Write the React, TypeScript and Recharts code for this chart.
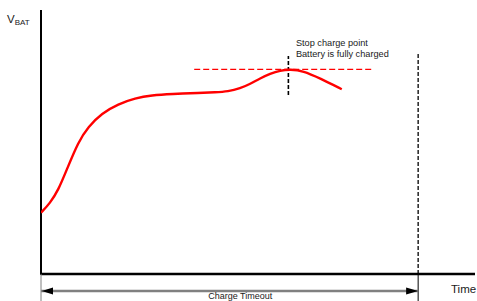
import React from 'react';
import { ComposedChart, Line, XAxis, YAxis, ReferenceLine, ReferenceDot } from 'recharts';

// Charge curve: time (0..100 of axis span) vs battery voltage (0..100 of axis span)
const curveTime = [0, 2.07, 4.0, 5.9, 8.6, 10.9, 14.0, 17.8, 21.7, 25.5, 30.1, 36.6, 40.1, 43.1, 45.9, 48.2, 50.5, 52.8, 55.1, 57.4, 60.4, 64.3, 69.3];
const curveVolt = [23.2, 26.8, 31.8, 39.4, 50.1, 55.8, 60.9, 64.4, 66.6, 67.7, 68.2, 68.6, 68.8, 69.1, 70.3, 72.0, 74.1, 75.9, 77.1, 77.5, 77.0, 74.1, 70.0];

const stopTime = 57.0;
const stopVolt = 77.5;
const stopLevelRange = [35.3, 76.2];
const stopMarkerRange = [67.8, 82.6];
const timeoutTime = 86.9;
const timeoutTop = 83.3;
const belowAxis = -10.3;
const arrowLevel = -6.44;

const labels = {
  yName: 'V',
  ySub: 'BAT',
  xName: 'Time',
  timeout: 'Charge Timeout',
  stop1: 'Stop charge point',
  stop2: 'Battery is fully charged',
};

const data = curveTime.map((t, i) => ({ t, v: curveVolt[i] }));

const FONT = '"Liberation Sans", Arial, sans-serif';
const TEXT = '#1a1a1a';

export default function App() {
  return (
    <div style={{ position: 'absolute', left: 0, top: 0 }}>
      <ComposedChart
        width={477}
        height={301}
        data={data}
        margin={{ top: 10, right: 2, bottom: 27, left: 41 }}
      >
        <XAxis dataKey="t" type="number" domain={[0, 100]} allowDataOverflow hide />
        <YAxis type="number" domain={[0, 100]} allowDataOverflow hide />
        {/* axes */}
        <ReferenceLine
          segment={[{ x: 0, y: -0.4 }, { x: 0, y: 100 }]}
          stroke="#000"
          strokeWidth={2}
          ifOverflow="visible"
        />
        <ReferenceLine
          segment={[{ x: 0, y: 0 }, { x: 100, y: 0 }]}
          stroke="#000"
          strokeWidth={2.3}
          ifOverflow="visible"
        />
        {/* stop level dashed red */}
        <ReferenceLine
          segment={[{ x: stopLevelRange[0], y: stopVolt }, { x: stopLevelRange[1], y: stopVolt }]}
          stroke="#ff0000"
          strokeWidth={1.4}
          strokeDasharray="6 3"
          ifOverflow="visible"
        />
        {/* stop marker dashed black */}
        <ReferenceLine
          segment={[{ x: stopTime, y: stopMarkerRange[0] }, { x: stopTime, y: stopMarkerRange[1] }]}
          stroke="#000"
          strokeWidth={1.6}
          strokeDasharray="4 2"
          ifOverflow="visible"
        />
        {/* timeout dashed vertical */}
        <ReferenceLine
          segment={[{ x: timeoutTime, y: 0 }, { x: timeoutTime, y: timeoutTop }]}
          stroke="#000"
          strokeWidth={1.3}
          strokeDasharray="4 2"
          ifOverflow="visible"
        />
        <ReferenceLine
          segment={[{ x: timeoutTime, y: belowAxis }, { x: timeoutTime, y: 0 }]}
          stroke="#000"
          strokeWidth={1}
          ifOverflow="visible"
        />
        <ReferenceLine
          segment={[{ x: 0, y: belowAxis }, { x: 0, y: 0 }]}
          stroke="#808080"
          strokeWidth={1}
          ifOverflow="visible"
        />
        {/* timeout arrow */}
        <ReferenceLine
          segment={[{ x: 0, y: arrowLevel }, { x: timeoutTime, y: arrowLevel }]}
          stroke="#808080"
          strokeWidth={2.5}
          ifOverflow="visible"
        />
        <ReferenceDot
          x={0}
          y={arrowLevel}
          ifOverflow="visible"
          shape={(p: any) => (
            <polygon
              points={`${p.cx + 0.8},${p.cy} ${p.cx + 12},${p.cy - 3.6} ${p.cx + 12},${p.cy + 3.6}`}
              fill="#000"
            />
          )}
        />
        <ReferenceDot
          x={timeoutTime}
          y={arrowLevel}
          ifOverflow="visible"
          shape={(p: any) => (
            <polygon
              points={`${p.cx},${p.cy} ${p.cx - 12},${p.cy - 3.6} ${p.cx - 12},${p.cy + 3.6}`}
              fill="#000"
            />
          )}
        />
        <Line
          type="basis"
          dataKey="v"
          stroke="#ff0000"
          strokeWidth={2.4}
          dot={false}
          activeDot={false}
          isAnimationActive={false}
        />
        {/* texts */}
        <ReferenceDot
          x={0}
          y={100}
          ifOverflow="visible"
          shape={(p: any) => (
            <text x={p.cx - 34} y={p.cy + 13} fontFamily={FONT} fontSize={11.5} fill={TEXT}>
              {labels.yName}
              <tspan fontSize={8} dy={1.7}>{labels.ySub}</tspan>
            </text>
          )}
        />
        <ReferenceDot
          x={100}
          y={0}
          ifOverflow="visible"
          shape={(p: any) => (
            <text x={p.cx - 24} y={p.cy + 19} fontFamily={FONT} fontSize={11.5} fill={TEXT}>
              {labels.xName}
            </text>
          )}
        />
        <ReferenceDot
          x={45.9}
          y={belowAxis}
          ifOverflow="visible"
          shape={(p: any) => (
            <text x={p.cx} y={p.cy - 2.3} textAnchor="middle" fontFamily={FONT} fontSize={9} fill={TEXT}>
              {labels.timeout}
            </text>
          )}
        />
        <ReferenceDot
          x={stopTime}
          y={stopMarkerRange[1]}
          ifOverflow="visible"
          shape={(p: any) => (
            <text fontFamily={FONT} fontSize={9.2} fill={TEXT}>
              <tspan x={p.cx + 7.5} y={p.cy - 9.5}>{labels.stop1}</tspan>
              <tspan x={p.cx + 7.5} y={p.cy + 1}>{labels.stop2}</tspan>
            </text>
          )}
        />
      </ComposedChart>
    </div>
  );
}
